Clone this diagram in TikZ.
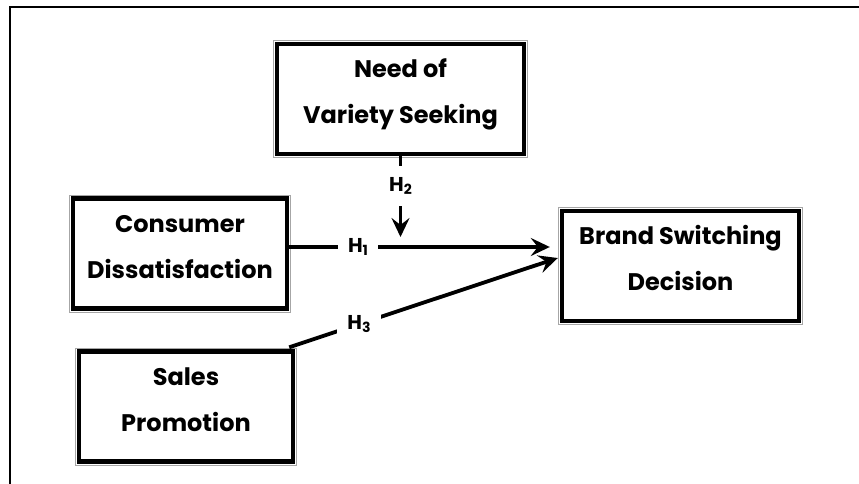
\documentclass[tikz,border=0pt]{standalone}
\usepackage{fontspec}
\setmainfont{Poppins}
\usetikzlibrary{arrows.meta}
\newcommand{\hlab}[1]{H\raisebox{-3.5pt}{\fontsize{14}{14}\selectfont #1}}
\newcommand{\twolines}[2]{\rule{0pt}{33.4pt}#1\\#2\rule[-30.4pt]{0pt}{0pt}}
\tikzset{
	varbox/.style={draw, line width=4.6pt, align=center, inner sep=0pt, minimum width=#1,
		font=\fontsize{24}{46}\selectfont\bfseries},
	link/.style={line width=3.8pt, -{Stealth[length=19pt,width=18pt,inset=7pt]}},
	hyp/.style={fill=white, inner xsep=10pt, inner ysep=11pt, font=\fontsize{20}{20}\selectfont\bfseries}
}
\begin{document}
\begin{tikzpicture}[x=1pt, y=-1pt, line join=miter]
	\useasboundingbox (0,0) rectangle (859,484);
	\draw[line width=1.6pt] (10,484)--(10,7)--(859,7);
	% variables
	\node[varbox=246.8pt] (need) at (400.5,99) {\twolines{Need of}{Variety Seeking}};
	\node[varbox=213.8pt] (cons) at (180,253.5) {\twolines{Consumer}{Dissatisfaction}};
	\node[varbox=236.8pt] (brand) at (680.5,266) {\twolines{Brand Switching}{Decision}};
	\node[varbox=213.8pt] (sales) at (186,406.5) {\twolines{Sales}{Promotion}};
	\foreach \n in {need,cons,brand,sales}
		\draw[gray!70, line width=1pt] ([shift={(-1.3pt,-1.3pt)}]\n.south west) rectangle ([shift={(1.3pt,1.3pt)}]\n.north east);
	% hypotheses
	\coordinate (mod) at (need.south |- 0,237);
	\draw[link] ([yshift=6.5pt]cons.east) -- node[hyp, pos=0.264]{\hlab{1}} ([shift={(-10pt,19pt)}]brand.west);
	\draw[link] (need.south) -- node[hyp, pos=0.37]{\hlab{2}} (mod);
	\draw[link] ([shift={(-6pt,2pt)}]sales.north east) -- node[hyp, pos=0.26]{\hlab{3}} ([shift={(-2pt,8pt)}]brand.west);
\end{tikzpicture}
\end{document}
